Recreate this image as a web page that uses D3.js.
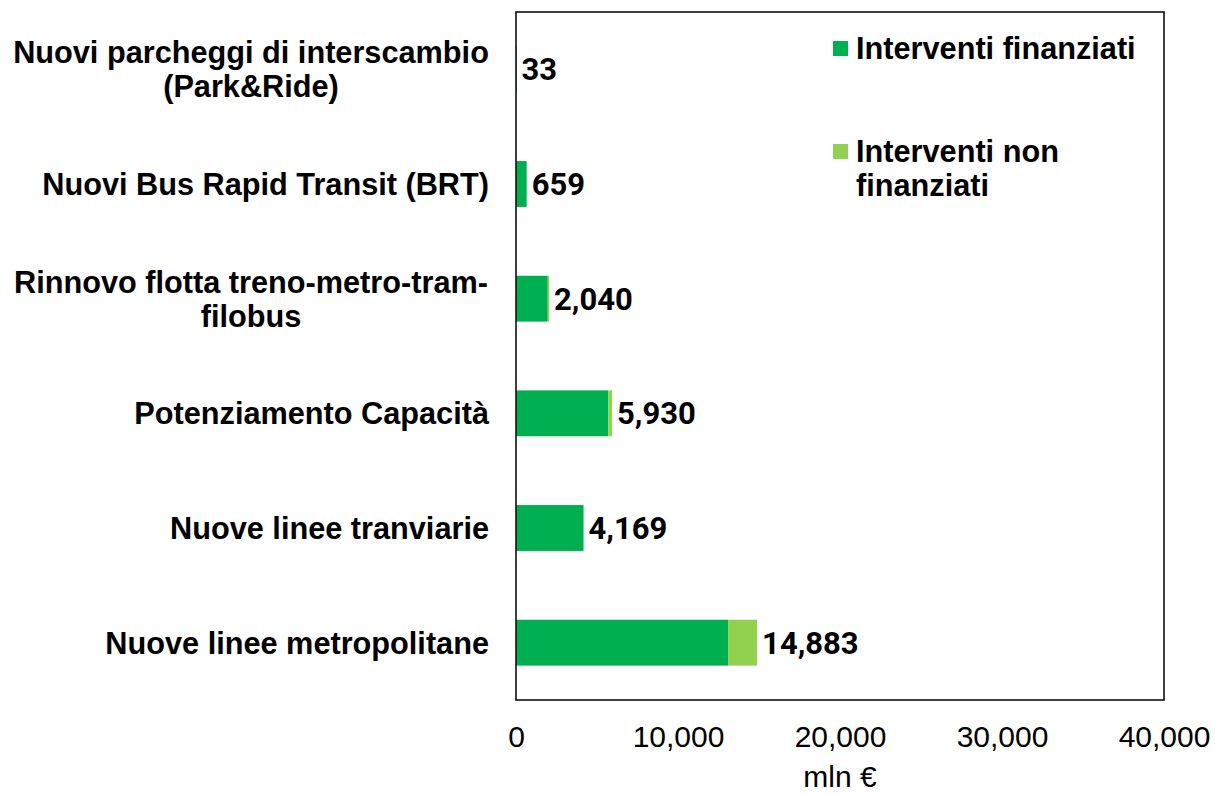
<!DOCTYPE html>
<html>
<head>
<meta charset="utf-8">
<script src="https://cdn.jsdelivr.net/npm/d3@7"></script>
<style>
  body { margin: 0; background: #fff; }
  .lbl { font-family: "Liberation Sans", Arial, sans-serif; font-weight: bold; font-size: 30.7px; fill: #000; }
  .tick text { font-family: "Liberation Sans", Arial, sans-serif; font-size: 30px; fill: #000; }
  .val { font-family: Roboto, sans-serif; font-weight: bold; font-size: 31px; fill: #000; }
</style>
</head>
<body>
<svg id="chart"></svg>
<script>
// categories, top to bottom (each label already split in lines like the original)
const categories = [
  ["Nuovi parcheggi di interscambio", "(Park&Ride)"],
  ["Nuovi Bus Rapid Transit (BRT)"],
  ["Rinnovo flotta treno-metro-tram-", "filobus"],
  ["Potenziamento Capacità"],
  ["Nuove linee tranviarie"],
  ["Nuove linee metropolitane"]
];
const finanziati = [33, 659, 1960, 5700, 4169, 13090];
const nonFinanziati = [0, 0, 80, 230, 0, 1793];
const xTicks = [0, 10000, 20000, 30000, 40000];
const seriesNames = ["Interventi finanziati", "Interventi non finanziati"];
const legendLines = [["Interventi finanziati"], ["Interventi non", "finanziati"]];
const colors = ["#00B050", "#92D050"];

const width = 1215, height = 794;
const plot = { left: 516, right: 1164, top: 12, bottom: 700 };

const svg = d3.select("#chart").attr("width", width).attr("height", height);

const rows = categories.map((c, i) => ({
  key: i, lines: c, fin: finanziati[i], non: nonFinanziati[i]
}));

const x = d3.scaleLinear().domain([0, 40000]).range([plot.left, plot.right]);
const y = d3.scaleBand().domain(rows.map(d => d.key))
  .range([plot.top, plot.bottom]).paddingInner(0.6).paddingOuter(0.3);

const stack = d3.stack().keys(["fin", "non"])(rows);

// bars
svg.append("g").selectAll("g")
  .data(stack)
  .join("g")
    .attr("fill", (d, i) => colors[i])
  .selectAll("rect")
  .data(d => d)
  .join("rect")
    .attr("x", d => x(d[0]))
    .attr("y", d => y(d.data.key))
    .attr("width", d => x(d[1]) - x(d[0]))
    .attr("height", y.bandwidth());

// plot frame
svg.append("rect")
  .attr("x", plot.left).attr("y", plot.top)
  .attr("width", plot.right - plot.left).attr("height", plot.bottom - plot.top)
  .attr("fill", "none").attr("stroke", "#000").attr("stroke-width", 1.5);

// x axis
const xAxis = svg.append("g")
  .attr("transform", `translate(0,${plot.bottom})`)
  .call(d3.axisBottom(x).tickValues(xTicks).tickSize(0).tickPadding(17).tickFormat(d3.format(",")));
xAxis.select(".domain").remove();
xAxis.selectAll("text").attr("dy", 0).attr("y", 47);

svg.append("text")
  .attr("x", (plot.left + plot.right) / 2)
  .attr("y", 787)
  .attr("text-anchor", "middle")
  .style("font-family", "'Liberation Sans', Arial, sans-serif")
  .style("font-size", "30px")
  .text("mln €");

// category labels, centred block ending near the axis
const labelCx = 251, lineH = 34;
const catG = svg.append("g").selectAll("text")
  .data(rows)
  .join("text")
    .attr("class", "lbl")
    .attr("text-anchor", "middle");
catG.each(function(d) {
  const cy = y(d.key) + y.bandwidth() / 2;
  const n = d.lines.length;
  d3.select(this).selectAll("tspan")
    .data(d.lines)
    .join("tspan")
      .attr("x", labelCx)
      .attr("y", (l, j) => cy + 11 + (j - (n - 1) / 2) * lineH)
      .text(l => l);
});
// right-align the single line labels to the axis side
catG.filter(d => d.lines.length === 1)
  .attr("text-anchor", "end")
  .selectAll("tspan").attr("x", 489);

// totals at bar ends
svg.append("g").selectAll("text")
  .data(rows)
  .join("text")
    .attr("class", "val")
    .attr("x", d => x(d.fin + d.non) + 5)
    .attr("y", d => y(d.key) + y.bandwidth() / 2 + 11)
    .text(d => d3.format(",")(d.fin + d.non));

// legend
const legend = svg.append("g").selectAll("g")
  .data(seriesNames)
  .join("g")
    .attr("transform", (d, i) => `translate(833,${41 + i * 103})`);
legend.append("rect")
  .attr("width", 15).attr("height", 15)
  .attr("fill", (d, i) => colors[i]);
legend.append("text")
  .attr("class", "lbl")
  .selectAll("tspan")
  .data((d, i) => legendLines[i])
  .join("tspan")
    .attr("x", 23)
    .attr("y", (l, j) => 18 + j * lineH)
    .text(l => l);
</script>
</body>
</html>
